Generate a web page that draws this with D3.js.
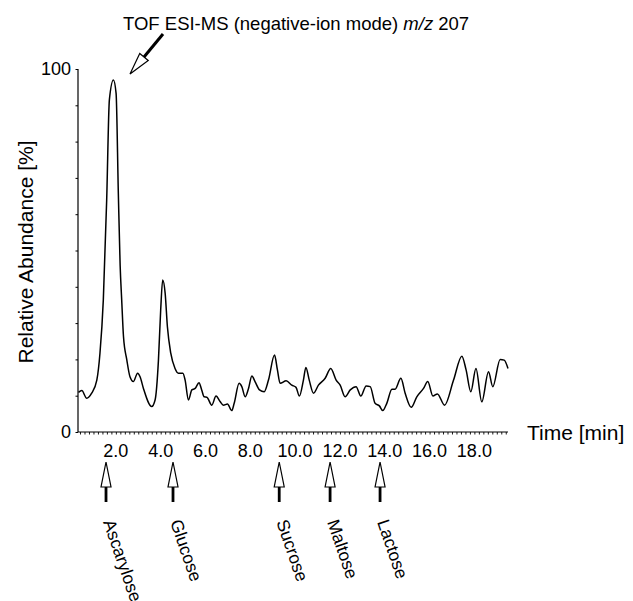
<!DOCTYPE html>
<html>
<head>
<meta charset="utf-8">
<script src="https://cdn.jsdelivr.net/npm/d3@7"></script>
<style>
  body { margin: 0; background: #fff; }
  text { font-family: "Liberation Sans", Arial, sans-serif; fill: #000; }
</style>
</head>
<body>
<script>
const largura = 633;
const altura = 601;

// tempo [min] e abundancia relativa [%]
const tempos = [0.33, 0.48, 0.70, 0.92, 1.15, 1.29, 1.44, 1.59, 1.71, 1.89, 2.01, 2.11, 2.19, 2.26, 2.34, 2.49,
  2.63, 2.78, 2.97, 3.08, 3.23, 3.6, 3.75, 3.9, 4.0, 4.09, 4.2, 4.3, 4.45, 4.64, 4.79, 4.99, 5.09, 5.24, 5.39,
  5.54, 5.71, 5.83, 5.94, 6.06, 6.28, 6.47, 6.65, 6.8, 6.98, 7.17, 7.28, 7.5, 7.62, 7.77, 7.92, 8.07, 8.21,
  8.41, 8.62, 8.81, 9.08, 9.21, 9.33, 9.6, 9.85, 10.04, 10.19, 10.37, 10.48, 10.63, 10.82, 11.04, 11.34,
  11.59, 11.83, 12.01, 12.23, 12.46, 12.72, 12.93, 13.17, 13.35, 13.57, 13.76, 13.91, 14.09, 14.32, 14.46,
  14.72, 14.91, 15.18, 15.43, 15.73, 15.92, 16.15, 16.35, 16.67, 17.07, 17.44, 17.63, 17.84, 18.07, 18.33,
  18.63, 18.82, 19.15, 19.33, 19.5];
const abundancia = [10.9, 11.4, 9.3, 10.7, 14.3, 21.7, 36.4, 63.9, 91.5, 97, 93.3, 65.8, 46, 36.4, 26.3, 19.8,
  15.2, 13.9, 16.2, 15.2, 12, 7, 8.8, 19.8, 33.6, 41.9, 38.2, 29, 21.7, 17.5, 16.2, 16.2, 14.3, 8.8, 11.6,
  12, 13.6, 11.6, 9.7, 9.6, 7.4, 9.9, 8.4, 7.4, 7.7, 5.9, 7.9, 13.4, 12.5, 9.7, 12, 15.4, 13.9,
  11.6, 11.1, 14.3, 21.2, 17.1, 13.4, 14.1, 12.9, 12.3, 9.9, 14.3, 17.8, 14.3, 10.7, 12.9, 14.8,
  17.5, 14.3, 12.9, 9.7, 11.6, 12.5, 9.9, 12.7, 12.5, 7.9, 7.2, 5.9, 7.9, 11.8, 11.8,
  14.8, 10.7, 6.8, 9.7, 12, 13.9, 9.9, 10.5, 7.4, 14.3, 20.9, 17.1, 11.1, 17.5, 8.3,
  16.6, 12.5, 20, 19.8, 17.5];

const compostos = ["Ascarylose", "Glucose", "Sucrose", "Maltose", "Lactose"];
const temposCompostos = [1.56, 4.55, 9.29, 11.56, 13.79];

const ticksX = [2, 4, 6, 8, 10, 12, 14, 16, 18];
const ticksY = [0, 100];

const svg = d3.select("body").append("svg")
  .attr("width", largura)
  .attr("height", altura);

const x = d3.scaleLinear().domain([0.31, 19.5]).range([78, 508]);
const y = d3.scaleLinear().domain([0, 100]).range([432, 69]);

// eixo Y
svg.append("g")
  .attr("transform", "translate(78,0)")
  .call(d3.axisLeft(y).tickValues(d3.range(0, 101, 10)).tickSize(2.5).tickFormat(""))
  .call(g => g.select(".domain").attr("d", `M0,${y(100)}V${y(0)}`).attr("stroke-width", 1.2))
  .call(g => g.selectAll(".tick line").attr("stroke-width", 1));

svg.append("g").selectAll("text")
  .data(ticksY)
  .join("text")
  .attr("x", 71)
  .attr("y", d => y(d))
  .attr("dy", "0.36em")
  .attr("text-anchor", "end")
  .style("font-size", "18px")
  .text(d => d);

// eixo X
svg.append("g")
  .attr("transform", "translate(0,432)")
  .call(d3.axisBottom(x).tickValues(d3.range(0.4, 19.5, 0.2)).tickSize(2.5).tickFormat(""))
  .call(g => g.select(".domain").attr("d", `M${x.range()[0]},0H${x.range()[1]}`).attr("stroke-width", 1.2))
  .call(g => g.selectAll(".tick line").attr("stroke-width", 0.9));

svg.append("g").selectAll("text")
  .data(ticksX)
  .join("text")
  .attr("x", d => x(d))
  .attr("y", 457)
  .attr("text-anchor", "middle")
  .style("font-size", "18px")
  .text(d => d3.format(".1f")(d));

svg.append("text")
  .attr("x", 527)
  .attr("y", 440)
  .style("font-size", "21px")
  .text("Time [min]");

svg.append("text")
  .attr("transform", "translate(33,252) rotate(-90)")
  .attr("text-anchor", "middle")
  .style("font-size", "21px")
  .text("Relative Abundance [%]");

// cromatograma
const linha = d3.line()
  .x((d, i) => x(tempos[i]))
  .y(d => y(d))
  .curve(d3.curveMonotoneX);

svg.append("path")
  .datum(abundancia)
  .attr("d", linha)
  .attr("fill", "none")
  .attr("stroke", "#000")
  .attr("stroke-width", 1.5);

// seta com ponta vazada
function seta(x0, y0, x1, y1, compPonta, meiaLarg, larguraHaste) {
  const dx = x1 - x0, dy = y1 - y0;
  const len = Math.hypot(dx, dy);
  const ux = dx / len, uy = dy / len;
  const bx = x1 - ux * compPonta, by = y1 - uy * compPonta;
  const g = svg.append("g");
  g.append("line")
    .attr("x1", x0).attr("y1", y0).attr("x2", bx).attr("y2", by)
    .attr("stroke", "#000").attr("stroke-width", larguraHaste);
  g.append("polygon")
    .attr("points", [
      [x1, y1],
      [bx - uy * meiaLarg, by + ux * meiaLarg],
      [bx + uy * meiaLarg, by - ux * meiaLarg]
    ].map(p => p.join(",")).join(" "))
    .attr("fill", "#fff")
    .attr("stroke", "#000")
    .attr("stroke-width", 1.2);
}

// titulo
const titulo = svg.append("text")
  .attr("x", 123)
  .attr("y", 30)
  .style("font-size", "18.5px");
titulo.append("tspan").text("TOF ESI-MS (negative-ion mode) ");
titulo.append("tspan").style("font-style", "italic").text("m/z");
titulo.append("tspan").text(" 207");

seta(163, 34, 130, 74, 22, 5.5, 3);

// setas dos padroes
temposCompostos.forEach((t, i) => {
  const px = x(t);
  seta(px, 502, px, 462, 25, 5, 2.8);
  svg.append("text")
    .attr("transform", `translate(${px - 3},522) rotate(71)`)
    .style("font-size", "17.5px")
    .text(compostos[i]);
});
</script>
</body>
</html>
